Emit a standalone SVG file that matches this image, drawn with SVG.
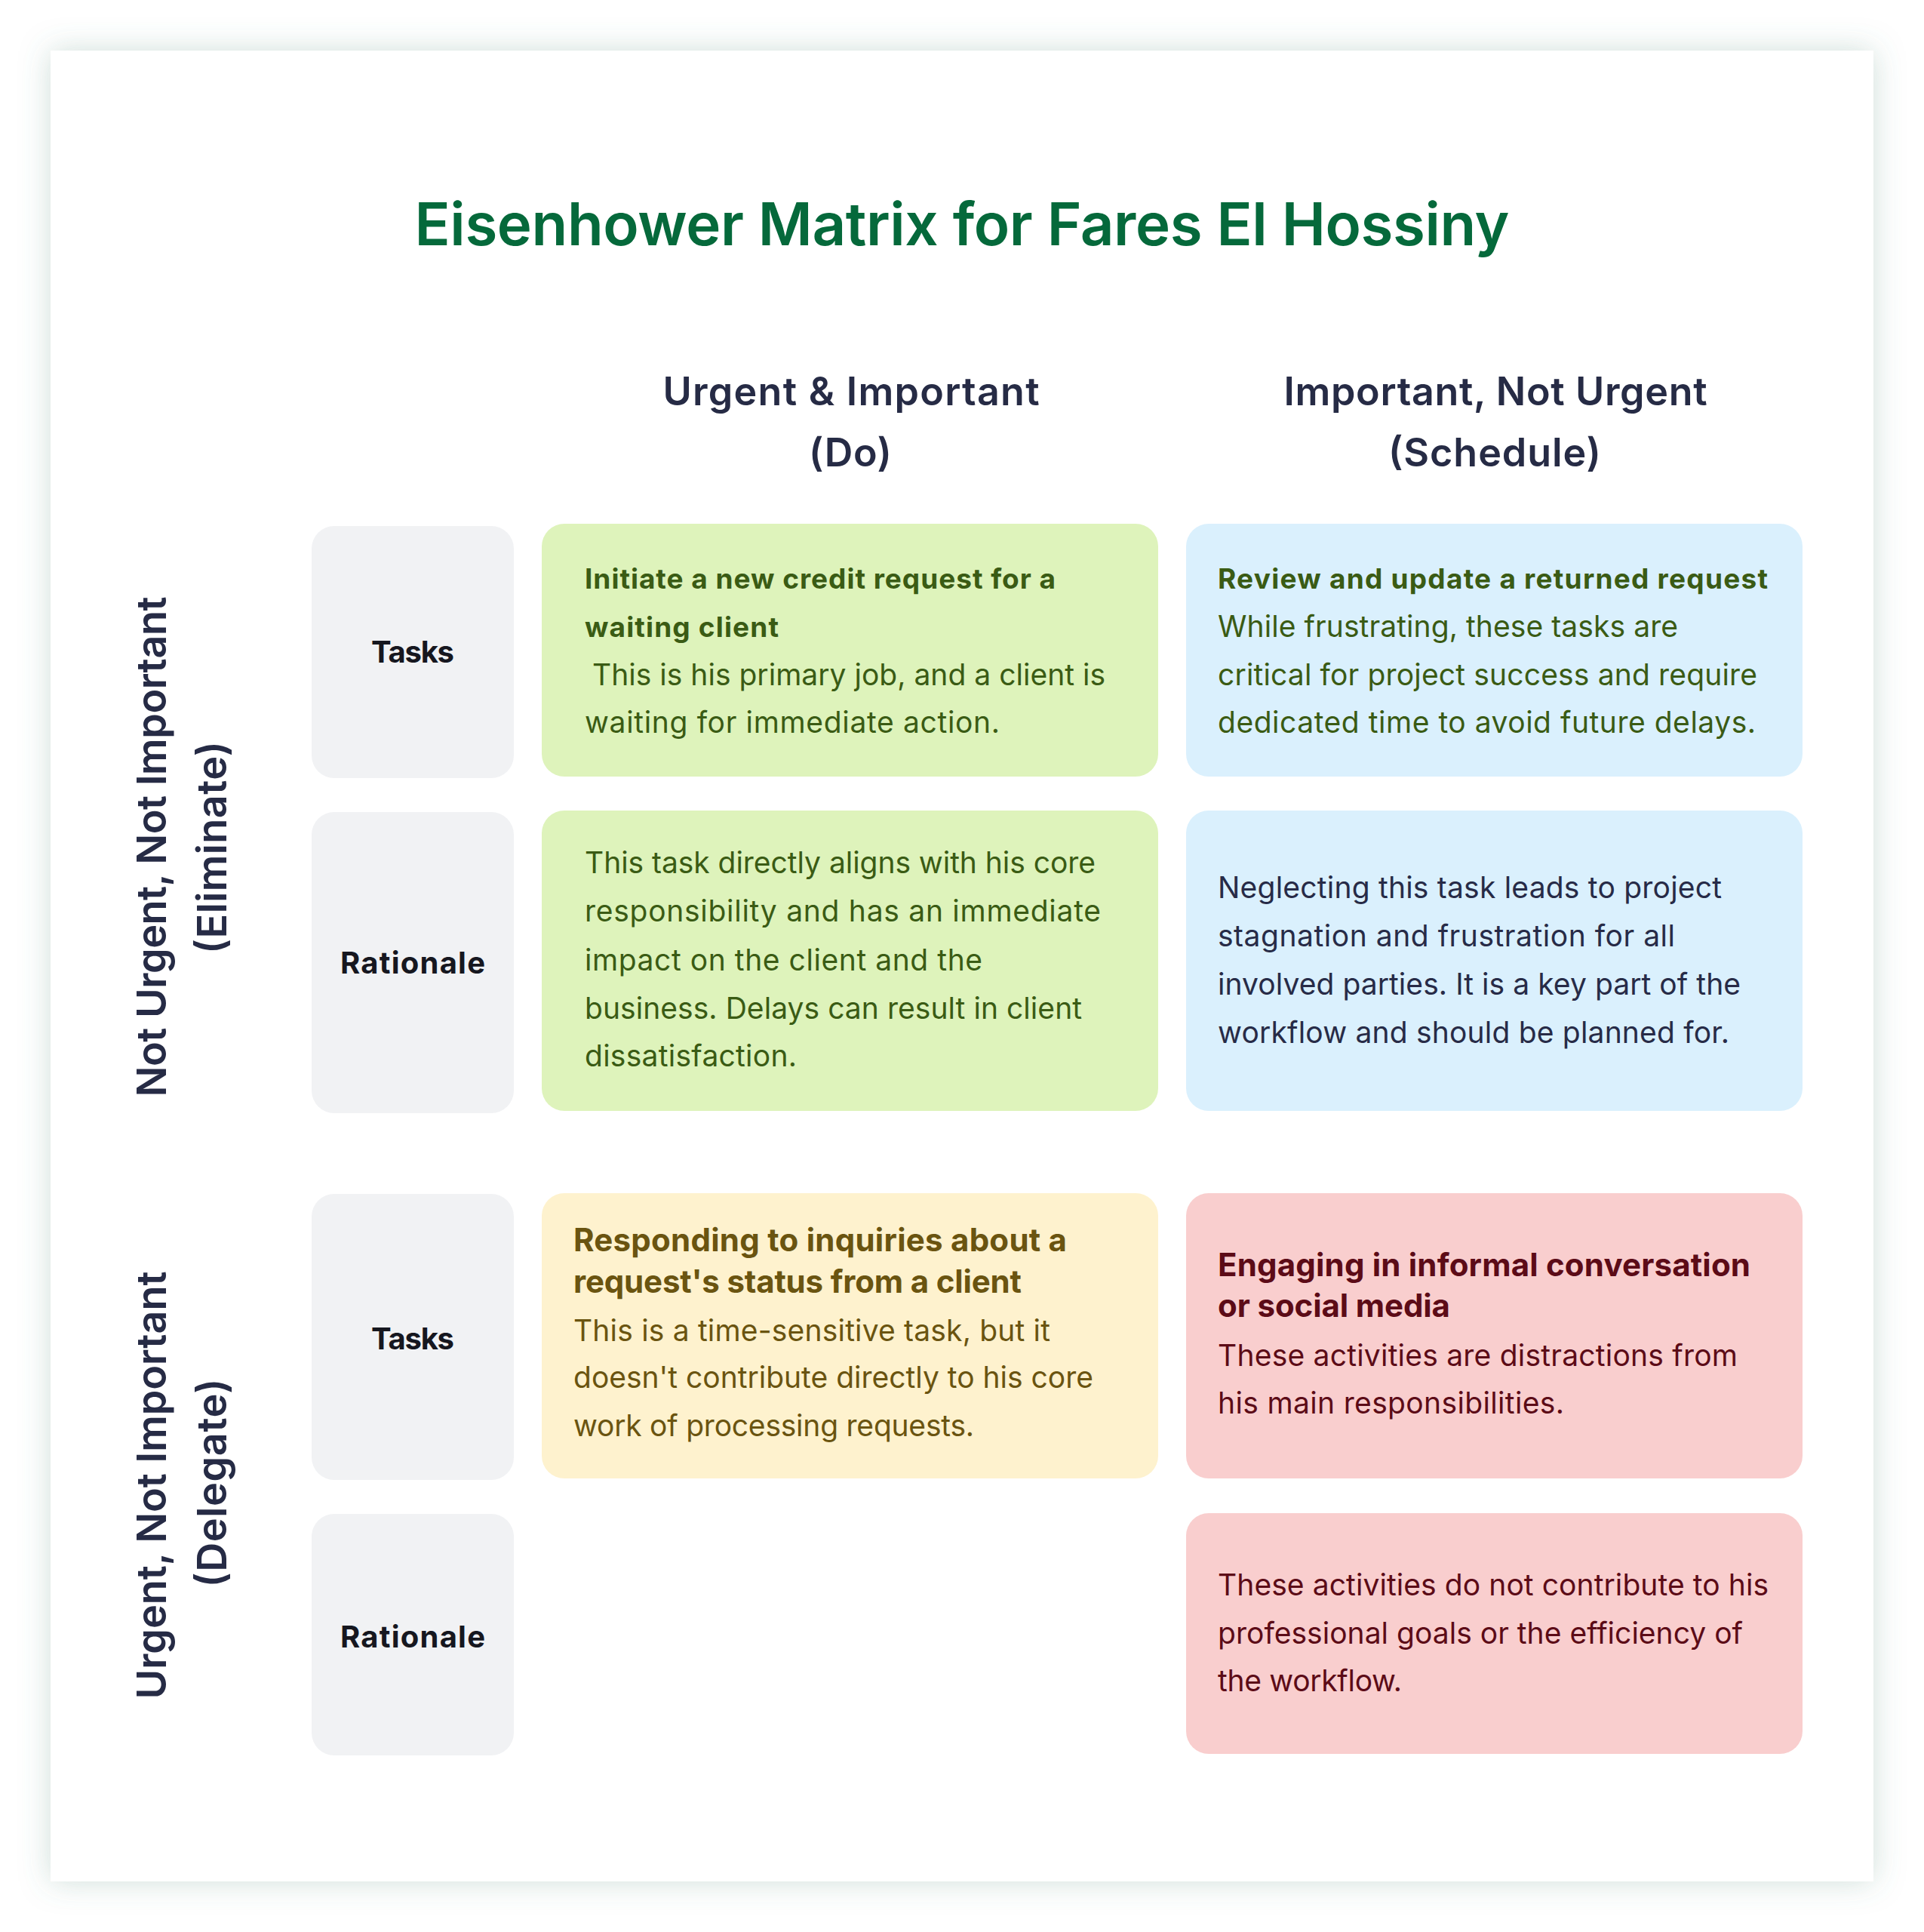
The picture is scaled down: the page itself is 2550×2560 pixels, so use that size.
<svg xmlns="http://www.w3.org/2000/svg" width="2550" height="2560" viewBox="0 0 2550 2560">
<defs>
<filter id="shadow" x="-10%" y="-10%" width="120%" height="120%">
<feDropShadow dx="0" dy="0" stdDeviation="20" flood-color="#4f8a76" flood-opacity="0.28"/>
</filter>
<style>
text{font-family:Inter,"Noto Sans","Liberation Sans",sans-serif;}
.title{font-size:78px;font-weight:600;fill:#05693B;text-anchor:middle;}
.head{font-size:52px;font-weight:600;fill:#262B45;text-anchor:middle;}
.side{font-size:54px;font-weight:600;fill:#262B45;text-anchor:middle;}
.lbl{font-size:40px;font-weight:700;fill:#16171F;text-anchor:middle;}
.gray{fill:#F1F2F4;}
.green{fill:#DEF3BB;}
.blue{fill:#DAF0FD;}
.yellow{fill:#FEF2CE;}
.pink{fill:#F9CECE;}
.b{font-size:37px;font-weight:700;}
.bb{font-size:42px;font-weight:700;}
.t{font-size:39px;font-weight:400;}
.cg{fill:#3A5B14;}
.cn{fill:#272B47;}
.cy{fill:#6A5410;}
.cp{fill:#5C0B17;}
</style>
</defs>
<rect x="0" y="0" width="2550" height="2560" fill="#FFFFFF"/>
<rect x="67" y="67" width="2416" height="2426" fill="#FFFFFF" filter="url(#shadow)"/>

<g id="title">
<text class="title" x="1275" y="325" textLength="1451">Eisenhower Matrix for Fares El Hossiny</text>
</g>

<g id="column-headers">
<g id="header-do">
<text class="head" x="1128" y="537" textLength="499">Urgent &amp; Important</text>
<text class="head" x="1127" y="618" textLength="110">(Do)</text>
</g>
<g id="header-schedule">
<text class="head" x="1982" y="537" textLength="561">Important, Not Urgent</text>
<text class="head" x="1981" y="618" textLength="282">(Schedule)</text>
</g>
</g>

<g id="row-headers">
<g id="row-eliminate">
<text class="side" transform="translate(220,1122) rotate(-90)" textLength="663">Not Urgent, Not Important</text>
<text class="side" transform="translate(300,1123) rotate(-90)" textLength="282">(Eliminate)</text>
</g>
<g id="row-delegate">
<text class="side" transform="translate(220,1968) rotate(-90)" textLength="567">Urgent, Not Important</text>
<text class="side" transform="translate(300,1965) rotate(-90)" textLength="277">(Delegate)</text>
</g>
</g>

<g id="label-tasks-1">
<rect class="gray" x="413" y="697" width="268" height="334" rx="30"/>
<text class="lbl" x="547" y="878" textLength="110">Tasks</text>
</g>
<g id="label-rationale-1">
<rect class="gray" x="413" y="1076" width="268" height="399" rx="30"/>
<text class="lbl" x="547" y="1290" textLength="192">Rationale</text>
</g>
<g id="label-tasks-2">
<rect class="gray" x="413" y="1582" width="268" height="379" rx="30"/>
<text class="lbl" x="547" y="1788" textLength="110">Tasks</text>
</g>
<g id="label-rationale-2">
<rect class="gray" x="413" y="2006" width="268" height="320" rx="30"/>
<text class="lbl" x="547" y="2183" textLength="192">Rationale</text>
</g>

<g id="do-tasks">
<rect class="green" x="718" y="694" width="817" height="335" rx="30"/>
<text class="b cg" x="775" y="780" textLength="624">Initiate a new credit request for a</text>
<text class="b cg" x="775" y="844" textLength="257">waiting client</text>
<text class="t cg" x="785" y="908" textLength="680">This is his primary job, and a client is</text>
<text class="t cg" x="775" y="971" textLength="550">waiting for immediate action.</text>
</g>
<g id="do-rationale">
<rect class="green" x="718" y="1074" width="817" height="398" rx="30"/>
<text class="t cg" x="775" y="1157" textLength="677">This task directly aligns with his core</text>
<text class="t cg" x="775" y="1221" textLength="684">responsibility and has an immediate</text>
<text class="t cg" x="775" y="1286" textLength="527">impact on the client and the</text>
<text class="t cg" x="775" y="1350" textLength="659">business. Delays can result in client</text>
<text class="t cg" x="775" y="1413" textLength="281">dissatisfaction.</text>
</g>

<g id="schedule-tasks">
<rect class="blue" x="1572" y="694" width="817" height="335" rx="30"/>
<text class="b cg" x="1614" y="780" textLength="729">Review and update a returned request</text>
<text class="t cg" x="1614" y="844" textLength="610">While frustrating, these tasks are</text>
<text class="t cg" x="1614" y="908" textLength="715">critical for project success and require</text>
<text class="t cg" x="1614" y="971" textLength="713">dedicated time to avoid future delays.</text>
</g>
<g id="schedule-rationale">
<rect class="blue" x="1572" y="1074" width="817" height="398" rx="30"/>
<text class="t cn" x="1614" y="1190" textLength="668">Neglecting this task leads to project</text>
<text class="t cn" x="1614" y="1254" textLength="606">stagnation and frustration for all</text>
<text class="t cn" x="1614" y="1318" textLength="693">involved parties. It is a key part of the</text>
<text class="t cn" x="1614" y="1382" textLength="678">workflow and should be planned for.</text>
</g>

<g id="delegate-tasks">
<rect class="yellow" x="718" y="1581" width="817" height="378" rx="30"/>
<text class="bb cy" x="760" y="1658" textLength="654">Responding to inquiries about a</text>
<text class="bb cy" x="760" y="1713" textLength="594">request's status from a client</text>
<text class="t cy" x="760" y="1777" textLength="632">This is a time-sensitive task, but it</text>
<text class="t cy" x="760" y="1839" textLength="689">doesn't contribute directly to his core</text>
<text class="t cy" x="760" y="1903" textLength="531">work of processing requests.</text>
</g>

<g id="eliminate-tasks">
<rect class="pink" x="1572" y="1581" width="817" height="378" rx="30"/>
<text class="bb cp" x="1614" y="1691" textLength="706">Engaging in informal conversation</text>
<text class="bb cp" x="1614" y="1745" textLength="308">or social media</text>
<text class="t cp" x="1614" y="1810" textLength="689">These activities are distractions from</text>
<text class="t cp" x="1614" y="1873" textLength="459">his main responsibilities.</text>
</g>
<g id="eliminate-rationale">
<rect class="pink" x="1572" y="2005" width="817" height="319" rx="30"/>
<text class="t cp" x="1614" y="2114" textLength="730">These activities do not contribute to his</text>
<text class="t cp" x="1614" y="2178" textLength="696">professional goals or the efficiency of</text>
<text class="t cp" x="1614" y="2241" textLength="244">the workflow.</text>
</g>

<g id="connectors"></g>
</svg>
